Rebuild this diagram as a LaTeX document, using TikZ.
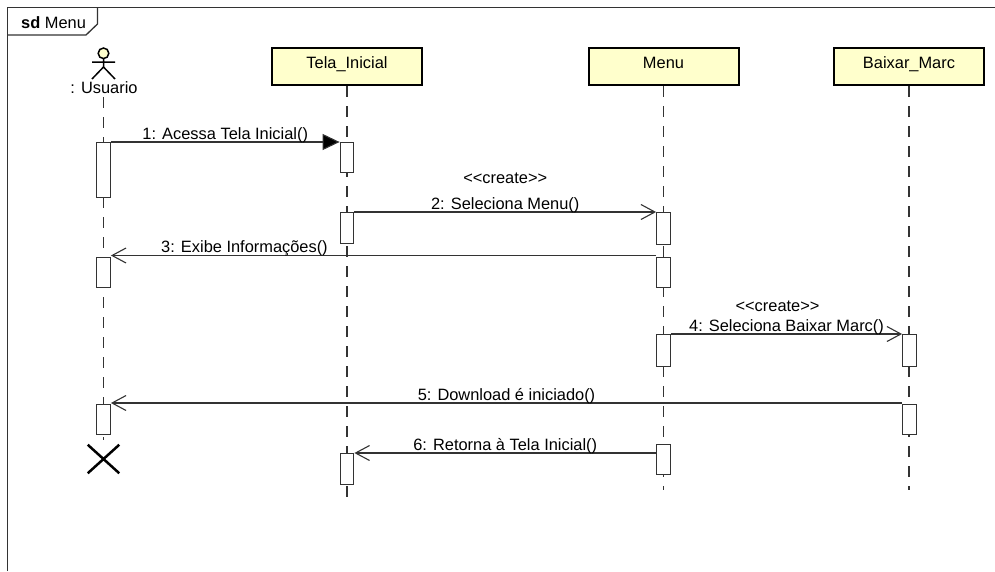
\documentclass[tikz,border=0pt]{standalone}
\usepackage{fontspec}
\setmainfont{Liberation Sans}
\usetikzlibrary{arrows.meta,shapes.misc}
\definecolor{boxfill}{RGB}{255,255,204}
\definecolor{inkgray}{RGB}{51,51,51}
\begin{document}
\begin{tikzpicture}[x=1pt,y=-1pt,
  font=\fontsize{16.4}{19}\selectfont,
  frame/.style={draw=inkgray,line width=1.3pt},
  lifebox/.style={draw=black,line width=2pt,fill=boxfill,minimum width=150pt,minimum height=37pt,inner sep=0pt,text height=12pt,text depth=8pt},
  act/.style={draw=inkgray,line width=1.3pt,fill=white,minimum width=13.5pt,inner sep=0pt,anchor=north},
  lifeline/.style={draw=inkgray,line width=1.3pt,dash pattern=on 11pt off 9pt},
  msgline/.style={draw=inkgray,line width=1.1pt},
  sync/.style={msgline,-{Triangle[length=17pt,width=16pt,fill=black]}},
  call/.style={msgline,-{Straight Barb[length=14pt,width=15pt,line width=1.1pt]}},
  lbl/.style={anchor=base,inner sep=0pt,yshift=3pt},
  stereo/.style={anchor=base,inner sep=0pt,yshift=29pt},
  actorline/.style={draw=black,line width=1.5pt}]
\useasboundingbox (0,0) rectangle (995,571);

% interaction frame with its name tab
\draw[frame] (7.5,571) -- (7.5,7.5) -- (995,7.5);
\draw[frame] (7.5,35) -- (86,35) -- (97.5,24) -- (97.5,7.5);
\node[anchor=base west,inner sep=0pt] (title) at (21,28) {\textbf{sd} Menu};

% actor
\draw[actorline,fill=boxfill] (103.5,53.3) circle[radius=5.3pt];
\draw[actorline] (103.5,58.6) -- (103.5,67) (92,62) -- (115,62) (92,79) -- (103.5,67) -- (115,79);
\node[anchor=base,inner sep=0pt] (usr) at (104,93) {: Usuario};

% lifeline heads
\node[lifebox] (tela) at (347,66.5) {Tela\_Inicial};
\node[lifebox] (menu) at (663.5,66.5) {Menu};
\node[lifebox] (baixar) at (909,66.5) {Baixar\_Marc};

% lifeline ends
\coordinate (telaEnd) at (347,500);
\coordinate (menuEnd) at (663.5,490);
\coordinate (baixarEnd) at (909,490);
\node[draw=black,cross out,line width=2.5pt,minimum width=29pt,minimum height=26pt,inner sep=0pt] (kill) at (103.5,459) {};

% lifelines
\draw[lifeline] (103.5,97) -- ([yshift=5pt]kill.north);
\draw[lifeline] (tela.south) -- (telaEnd);
\draw[lifeline] (menu.south) -- (menuEnd);
\draw[lifeline] (baixar.south) -- (baixarEnd);

% activations
\node[act,minimum height=55pt] (u1) at (103.5,142) {};
\node[act,minimum height=30pt] (u2) at (103.5,257) {};
\node[act,minimum height=30pt] (u3) at (103.5,404) {};
\node[act,minimum height=30pt] (t1) at (347,142) {};
\node[act,minimum height=31pt] (t2) at (347,212) {};
\node[act,minimum height=31pt] (t4) at (347,453) {};
\node[act,minimum height=32pt] (m2) at (663.5,212) {};
\node[act,minimum height=30pt] (m3) at (663.5,257) {};
\node[act,minimum height=32pt] (m4) at (663.5,334) {};
\node[act,minimum height=30pt] (m6) at (663.5,444) {};
\node[act,minimum height=32pt] (b4) at (909.5,334) {};
\node[act,minimum height=30pt] (b5) at (909.5,404) {};

% messages
\draw[sync] (u1.north east) -- (t1.north west)
  node[lbl,midway] {1: Acessa Tela Inicial()};
\draw[call] (t2.north east) -- (m2.north west)
  node[lbl,midway] {2: Seleciona Menu()}
  node[stereo,midway] {<\kern0pt<create>\kern0pt>};
\draw[call] ([yshift=1.5pt]m3.north west) -- ([yshift=1.5pt]u2.north east)
  node[lbl,pos=0.755] {3: Exibe Informações()};
\draw[call] (m4.north east) -- (b4.north west)
  node[lbl,midway] {4: Seleciona Baixar Marc()}
  node[stereo,midway,xshift=-9pt,yshift=-6pt] {<\kern0pt<create>\kern0pt>};
\draw[call] ([yshift=1pt]b5.north west) -- ([yshift=1pt]u3.north east)
  node[lbl,midway] {5: Download é iniciado()};
\draw[call] (m6.west |- t4.north) -- (t4.north east)
  node[lbl,midway] {6: Retorna à Tela Inicial()};
\end{tikzpicture}
\end{document}
